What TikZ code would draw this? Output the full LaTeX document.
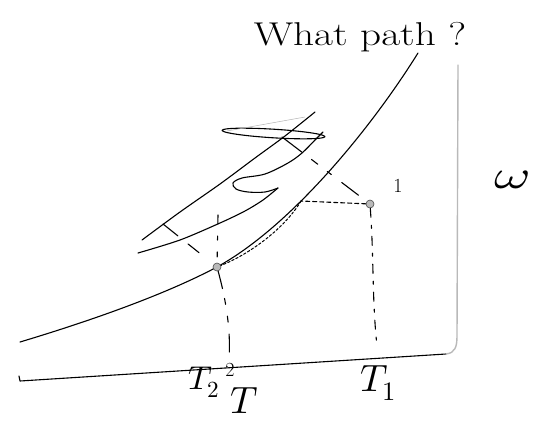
\documentclass[tikz,border=0pt]{standalone}
\usepackage{unicode-math}
\begin{document}
\begin{tikzpicture}[x=1pt,y=-1pt, line cap=round, line join=round,
  ink/.style={line width=1.1pt, black},
  pencil/.style={line width=1.4pt, gray!55},
  dotpt/.style={circle, draw=black!70, fill=gray!55, line width=0.6pt, inner sep=0pt, minimum size=8pt},
  lbl/.style={inner sep=0pt}]
\useasboundingbox (0,0) rectangle (549,424);

% main curve
\coordinate (m0) at (20,342);
\coordinate (m1) at (217,267);
\coordinate (m2) at (418,53);
\draw[ink] (m0) .. controls (100,318) and (170,292) .. (m1) .. controls (290,227) and (370,130) .. (m2);
\coordinate (c1) at (301,201);

% points
\node[dotpt] (p1) at (370,204) {};
\node[dotpt] (p2) at (m1) {};

% upper long line
\draw[ink] plot[smooth] coordinates {(142,240) (180,212) (220,184) (255,158) (285,136) (315,112)};
% lower line, S and thin loop
\draw[ink] plot[smooth, tension=0.5] coordinates {(138,253) (180,240) (220,223) (245,211) (263,200) (278,188)};
\draw[ink] plot[smooth, tension=0.55] coordinates {(278,188) (265,192) (248,192) (236,189) (233,183) (242,178) (265,174) (288,163) (302,153) (315,140) (323,132)};
\draw[ink, rotate around={-3.5:(273.5,133.5)}] (273.5,133.5) ellipse [x radius=51.5pt, y radius=4.3pt];
\draw[gray!60, line width=0.5pt] (227,131) -- (305,117);

% dashed construction lines
\coordinate (u2) at (163,224);
\draw[ink, dash pattern=on 19pt off 13pt on 14pt off 40pt] (u2) -- (p2);
\coordinate (v2) at (218,215);
\draw[ink, dash pattern=on 9pt off 12pt on 4pt off 12pt on 5pt off 30pt] (v2) -- (p2);
\coordinate (u1) at (282,137);
\draw[ink, dash pattern=on 25pt off 12pt on 8pt off 12pt on 5pt off 13pt on 21pt off 30pt] (u1) -- (p1);
\draw[ink, dash pattern=on 4pt off 3pt] (p1) -- (c1);
\draw[ink, line width=1pt, dash pattern=on 2.5pt off 2pt] (c1) .. controls (285,228) and (250,254) .. (p2);
\coordinate (a1) at (377,346);
\draw[ink, dash pattern=on 9pt off 8pt on 3pt off 8pt] (p1) .. controls (374,260) and (372,300) .. (a1);
\coordinate (a2) at (229,360);
\draw[ink, dash pattern=on 18pt off 10pt on 6pt off 12pt on 6pt off 12pt] (p2) .. controls (226,300) and (231,330) .. (a2);

% axes
\coordinate (ax0) at (20,381);
\coordinate (hook) at (19,376);
\coordinate (corner) at (446,354);
\coordinate (bend) at (457,336);
\coordinate (top) at (458,65);
\draw[ink] (hook) -- (ax0) -- (corner);
\draw[pencil] (corner) .. controls (455,353) and (457,347) .. (bend) -- (top);

% labels
\node[lbl, anchor=base, font=\fontsize{33}{40}\selectfont] (title) at (360,45) {\scalebox{1.25}[1]{What path ?}};
\node[lbl, font=\fontsize{40}{48}\selectfont] (om) at (512,180) {\scalebox{1.4}[1]{$\omega$}};
\node[lbl, anchor=base, font=\fontsize{38}{44}\selectfont] (T1) at (378,391) {$T_1$};
\node[lbl, anchor=base, font=\fontsize{33}{40}\selectfont] (T2) at (204,389) {$T_2$};
\node[lbl, font=\fontsize{20}{24}\selectfont] (sq) at (230,370) {2};
\node[lbl, anchor=base, font=\fontsize{38}{46}\selectfont] (Tb) at (244,413) {$T$};
\node[lbl, font=\fontsize{20}{24}\selectfont] (one) at (398,186) {1};
\end{tikzpicture}
\end{document}
